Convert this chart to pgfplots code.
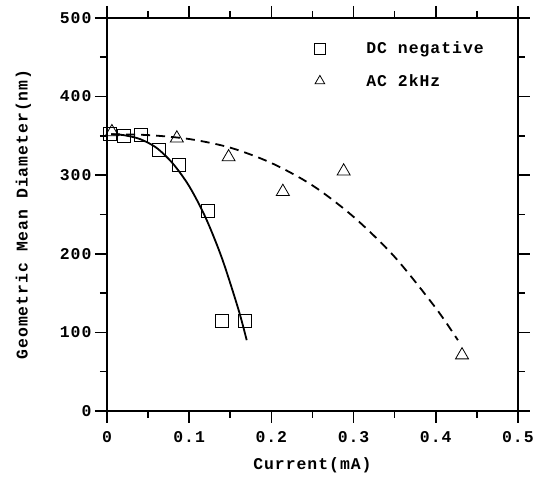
\documentclass[border=0pt]{standalone}
\usepackage{pgfplots}
\pgfplotsset{compat=1.18}
\usepackage{fontspec}
\setmainfont{Liberation Mono}[LetterSpace=6]
\newcommand{\lfont}{\fontsize{16.5}{16.5}\selectfont\bfseries}
\begin{document}
\begin{tikzpicture}
\begin{axis}[
  scale only axis, width=411bp, height=393bp,
  xmin=0, xmax=0.5, ymin=0, ymax=500,
  xtick={0,0.1,0.2,0.3,0.4,0.5}, xticklabels={0,0.1,0.2,0.3,0.4,0.5},
  ytick={0,100,200,300,400,500},
  minor x tick num=1, minor y tick num=1,
  tick align=outside,
  major tick length=12bp, minor tick length=7bp,
  axis line style={line width=1.6bp},
  every tick/.style={line width=1.6bp, black},
  ticklabel style={font=\lfont},
  label style={font=\lfont},
  xticklabel shift=5bp,
  xlabel shift=8bp,
  ylabel shift=22bp,
  xlabel={Current(mA)}, ylabel={Geometric Mean Diameter(nm)},
  /pgf/number format/assume math mode=true,
  legend style={draw=none, fill=none, at={(0.497,0.95)}, anchor=north west,
    font=\lfont, row sep=15bp, column sep=39bp},
  legend image code/.code={\draw[#1, mark size=5.5bp] plot coordinates {(0bp,0bp)};},
  legend cell align=left,
  clip=false,
]
\addplot[only marks, mark=square, mark size=6.5bp, mark options={line width=0.8bp, fill=white}, black]
coordinates {(0.004,352) (0.021,350) (0.041,351) (0.063,332) (0.088,313) (0.123,255) (0.140,115) (0.168,115)};
\addlegendentry{DC negative}
\addplot[only marks, mark=triangle, mark size=7.5bp, mark options={line width=0.8bp}, black]
coordinates {(0.006,355) (0.085,347) (0.148,323) (0.214,279) (0.288,305) (0.432,71)};
\addlegendentry{AC 2kHz}
\addplot[forget plot, smooth, line width=1.8bp, black]
coordinates {(0.005,352) (0.02,351) (0.04,346) (0.06,335) (0.08,315) (0.10,286) (0.12,246) (0.14,194) (0.16,129) (0.17,90)};
\addplot[forget plot, smooth, line width=1.8bp, black, dash pattern=on 9bp off 6bp]
coordinates {(0.005,352) (0.05,351) (0.10,346) (0.15,335) (0.20,315.5) (0.25,287) (0.30,247) (0.35,196) (0.40,131) (0.427,90)};
\end{axis}
\path (current axis.south west) ++(-107bp,-68bp);
\path (current axis.north east) ++(19bp,18bp);
\end{tikzpicture}
\end{document}
